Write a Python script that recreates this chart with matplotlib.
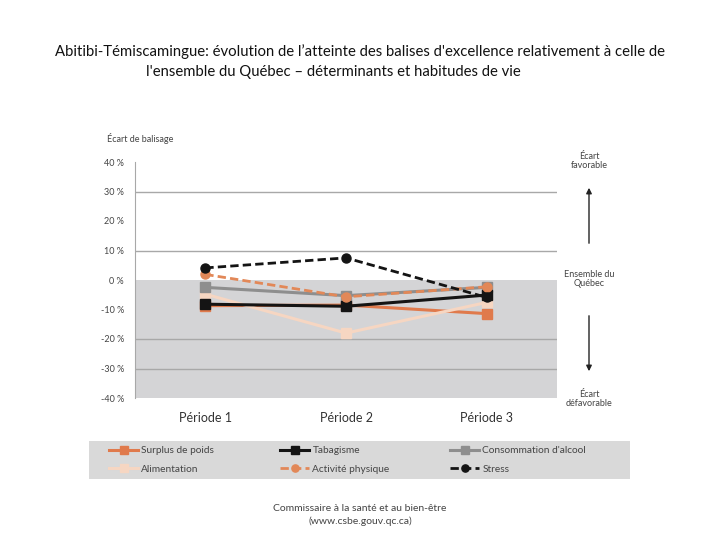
import matplotlib
matplotlib.use("Agg")
import matplotlib.pyplot as plt
from matplotlib.patches import Rectangle, FancyArrowPatch

plt.rcParams['font.family'] = ['Lato', 'DejaVu Sans']

periods = ["Période 1", "Période 2", "Période 3"]
surplus = [-8.7, -8.5, -11.4]
tabagisme = [-8.2, -8.9, -5.1]
alcool = [-2.5, -5.3, -2.5]
alimentation = [-4.8, -18.0, -7.6]
activite = [1.9, -5.7, -2.3]
stress = [4.1, 7.5, -5.9]
yticks = [40, 30, 20, 10, 0, -10, -20, -30, -40]
ytick_labels = ["40 %", "30 %", "20 %", "10 %", "0 %", "-10 %", "-20 %", "-30 %", "-40 %"]
grid_levels = [30, 10, -20, -30]

fig = plt.figure(figsize=(7.2, 5.4), dpi=100)
ax = fig.add_axes([135/720, 1-398/540, 422/720, 236/540])
ax.set_xlim(-0.5, 2.5)
ax.set_ylim(-40, 40)
ax.axhspan(-40, 0, color='#d4d4d6', zorder=0, lw=0)
for g in grid_levels:
    ax.axhline(g, color='#a8a8a8', lw=1, zorder=1)
for s in ['top', 'right', 'bottom']:
    ax.spines[s].set_visible(False)
ax.spines['left'].set_color('#a8a8a8')
ax.set_yticks(yticks)
ax.set_yticklabels(ytick_labels, fontsize=6.5, color='#444444')
ax.tick_params(axis='y', length=0, pad=8)
x = [0, 1, 2]
ax.set_xticks(x)
ax.set_xticklabels(periods, fontsize=9, color='#333333')
ax.tick_params(axis='x', length=0, pad=10)

c_orange = '#e07a4c'
c_black = '#141414'
c_gray = '#8e8e8e'
c_peach = '#f6d6c2'
c_orange2 = '#e28858'

h_sur, = ax.plot(x, surplus, color=c_orange, lw=2.2, marker='s', ms=6.5, label='Surplus de poids', zorder=3)
h_ali, = ax.plot(x, alimentation, color=c_peach, lw=2.2, marker='s', ms=6.5, label='Alimentation', zorder=3)
h_tab, = ax.plot(x, tabagisme, color=c_black, lw=2.2, marker='s', ms=6.5, label='Tabagisme', zorder=4)
h_alc, = ax.plot(x, alcool, color=c_gray, lw=2.2, marker='s', ms=6.5, label="Consommation d'alcool", zorder=3)
h_act, = ax.plot(x, activite, color=c_orange2, lw=2.0, ls=(0, (3, 1.5)), marker='o', ms=6.5, label='Activité physique', zorder=4)
h_str, = ax.plot(x, stress, color=c_black, lw=2.0, ls=(0, (3, 1.5)), marker='o', ms=6.5, label='Stress', zorder=5)

fig.text(107/720, 1-139/540, "Écart de balisage", fontsize=6.5, color='#444444', va='center', ha='left')

# right annotations
fig.text(589/720, 1-161/540, "Écart\nfavorable", fontsize=6.5, color='#444444', ha='center', va='center', linespacing=1.1)
fig.text(589/720, 1-279/540, "Ensemble du\nQuébec", fontsize=6.5, color='#444444', ha='center', va='center', linespacing=1.1)
fig.text(589/720, 1-399/540, "Écart\ndéfavorable", fontsize=6.5, color='#444444', ha='center', va='center', linespacing=1.1)
fig.add_artist(FancyArrowPatch((589/720, 1-246/540), (589/720, 1-185/540),
               transform=fig.transFigure, arrowstyle='-|>', mutation_scale=8, color='#222222', lw=1))
fig.add_artist(FancyArrowPatch((589/720, 1-313/540), (589/720, 1-374/540),
               transform=fig.transFigure, arrowstyle='-|>', mutation_scale=8, color='#222222', lw=1))

# title
fig.text(360/720, 1-52/540, "Abitibi-Témiscamingue: évolution de l’atteinte des balises d'excellence relativement à celle de",
         fontsize=10.7, ha='center', va='center', color='#111111')
fig.text(333/720, 1-72/540, "l'ensemble du Québec – déterminants et habitudes de vie",
         fontsize=10.7, ha='center', va='center', color='#111111')

# legend background
fig.add_artist(Rectangle((89/720, 1-479/540), 541/720, 38/540, transform=fig.transFigure,
                         facecolor='#d9d9d9', edgecolor='none', zorder=0))

columns = [([h_sur, h_ali], 109), ([h_tab, h_act], 280), ([h_alc, h_str], 450)]
for hs, px in columns:
    leg = fig.legend(handles=hs, loc='center left', ncol=1,
                     bbox_to_anchor=(px/720, 1-460/540),
                     fontsize=7.3, frameon=False, borderaxespad=0, borderpad=0,
                     handlelength=2.9, handletextpad=0.3, labelspacing=0.9,
                     markerscale=0.8)
    for t in leg.get_texts():
        t.set_color('#444444')

fig.text(360/720, 1-515/540, "Commissaire à la santé et au bien-être\n(www.csbe.gouv.qc.ca)",
         fontsize=7.5, ha='center', va='center', color='#444444', linespacing=1.4)

fig.savefig("out.png", dpi=100)
